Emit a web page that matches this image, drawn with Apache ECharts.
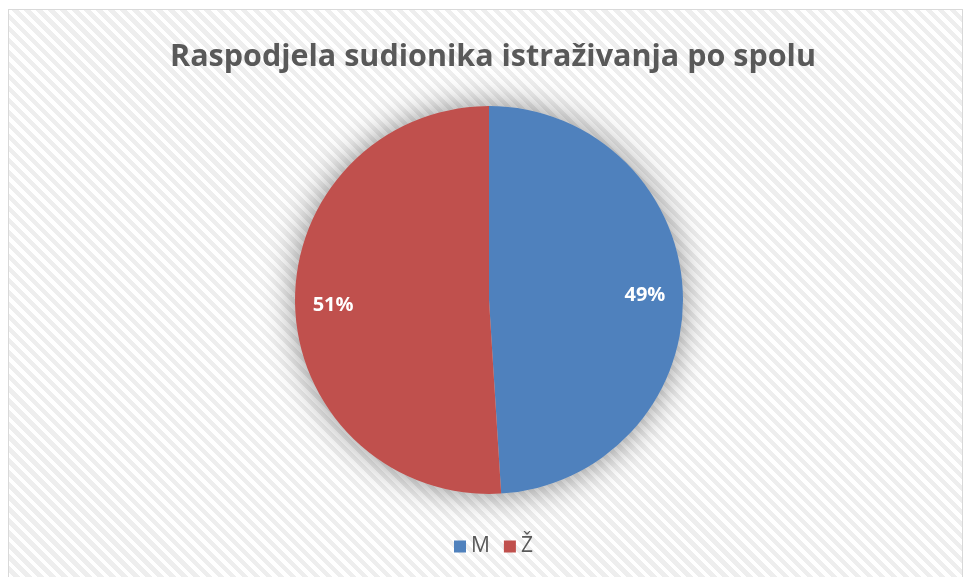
<!DOCTYPE html>
<html>
<head>
<meta charset="utf-8">
<script src="https://cdn.jsdelivr.net/npm/echarts@6/dist/echarts.min.js"></script>
<style>
  html, body { margin: 0; padding: 0; background: #ffffff; }
  #frame {
    position: absolute; left: 8px; top: 9px; width: 953px; height: 580px;
    border: 1px solid #d9d9d9;
    background: repeating-linear-gradient(45deg, #ffffff 0px, #ffffff 4px, #eeeeee 4px, #eeeeee 8.5px);
  }
  #chart { position: absolute; left: 0; top: 0; width: 963px; height: 577px; }
</style>
</head>
<body>
<div id="frame"></div>
<div id="chart"></div>
<script>
// Survey participants by sex
const categories = ['M', 'Ž'];
const shares = [49, 51];
const colors = ['#4F81BD', '#C0504D'];

const chart = echarts.init(document.getElementById('chart'), null, { renderer: 'canvas' });

const pieData = categories.map((name, i) => ({
  name: name,
  value: shares[i],
  itemStyle: { color: colors[i] }
}));

const center = [489, 300];
const radius = 194;

chart.setOption({
  backgroundColor: 'transparent',
  animation: false,
  title: {
    text: 'Raspodjela sudionika istraživanja po spolu',
    left: 165,
    top: 37,
    textStyle: {
      fontFamily: 'Open Sans',
      fontWeight: 'bold',
      fontSize: 30.5,
      color: '#595959'
    }
  },
  legend: {
    bottom: 15,
    left: 449,
    data: categories,
    icon: 'rect',
    itemWidth: 12,
    itemHeight: 12,
    itemGap: 14,
    textStyle: { fontFamily: 'Open Sans', fontSize: 21, color: '#595959' },
    selectedMode: false
  },
  series: [
    {
      // soft shadow beneath the whole disc
      type: 'pie',
      silent: true,
      z: 1,
      center: center,
      radius: [0, radius],
      label: { show: false },
      labelLine: { show: false },
      itemStyle: {
        color: '#cccccc',
        shadowBlur: 32,
        shadowColor: 'rgba(0,0,0,0.45)'
      },
      data: [{ name: '_shadow', value: 1 }],
      legendHoverLink: false
    },
    {
      type: 'pie',
      z: 2,
      center: center,
      radius: [0, radius],
      startAngle: 90,
      clockwise: true,
      label: { show: false },
      labelLine: { show: false },
      data: pieData
    },
    {
      // ring carrying the percentage labels
      type: 'pie',
      z: 3,
      silent: true,
      center: center,
      radius: [112, radius],
      startAngle: 90,
      clockwise: true,
      itemStyle: { color: 'rgba(0,0,0,0)' },
      label: {
        show: true,
        position: 'inside',
        formatter: '{c}%',
        fontFamily: 'Open Sans',
        fontWeight: 'bold',
        fontSize: 20,
        color: '#ffffff'
      },
      labelLine: { show: false },
      data: categories.map((name, i) => ({ name: name, value: shares[i] })),
      legendHoverLink: false
    }
  ]
});
</script>
</body>
</html>
